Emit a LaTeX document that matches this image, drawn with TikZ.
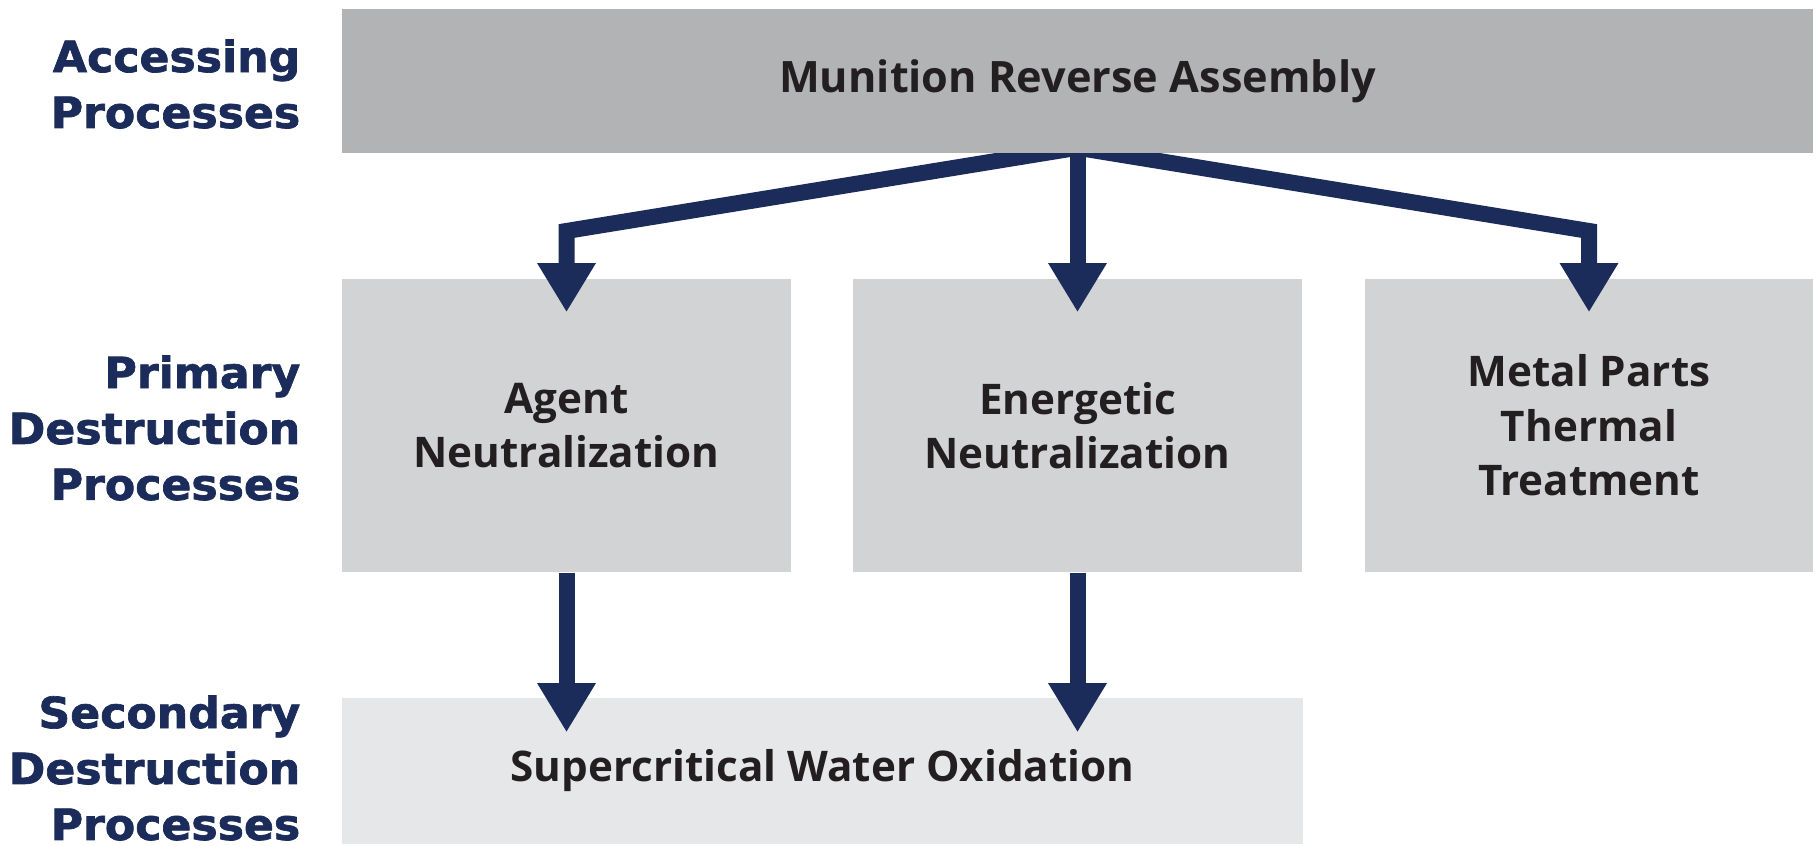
\documentclass[tikz,border=0pt]{standalone}
\usepackage{fontspec}
\setmainfont{Open Sans}
\newfontfamily\stagefont{DejaVu Sans Bold}[FakeBold=1.6, FakeStretch=1.03]
\usetikzlibrary{arrows.meta, positioning}

\definecolor{navy}{HTML}{1B2C5A}
\definecolor{greydark}{HTML}{B2B3B5}
\definecolor{greymid}{HTML}{D1D3D4}
\definecolor{greylight}{HTML}{E6E7E8}
\definecolor{ink}{HTML}{231F20}

\pgfdeclarelayer{front}
\pgfsetlayers{main,front}

\tikzset{
    stage/.style={font=\stagefont\fontsize{12.2}{15.9}\selectfont, text=navy,
        align=right, anchor=east, inner sep=0pt},
    procbox/.style={fill=greymid, minimum width=4.49cm, minimum height=2.93cm, inner sep=0pt,
        align=center, text=ink, font=\bfseries\fontsize{12}{15.5}\selectfont},
    flow/.style={draw=navy, line width=1.6mm, line join=miter,
        -{Triangle[width=5.5mm, length=4.9mm]}}
}

\begin{document}
\begin{tikzpicture}[x=0.01cm, y=0.01cm]
    \useasboundingbox (0,0) rectangle (1816,846);

    % stage labels
    \node[stage] (access) at (301,762) {Accessing\\Processes};
    \node[stage] (primary) at (301,418) {Primary\\Destruction\\Processes};
    \node[stage] (secondary) at (301,78) {Secondary\\Destruction\\Processes};

    % process boxes
    \begin{pgfonlayer}{front}
        \node[procbox, fill=greydark, minimum width=14.71cm, minimum height=1.44cm,
            font=\bfseries\fontsize{12.3}{15.5}\selectfont] (mra) at (1077.5,765) {Munition Reverse Assembly};
    \end{pgfonlayer}
    \node[procbox] (agent) at (566.5,420.5) {Agent\\Neutralization};
    \node[procbox] (energetic) at (1077.5,420.5) {Energetic\\Neutralization};
    \node[procbox, minimum width=4.48cm] (metal) at (1589,420.5) {Metal Parts\\Thermal\\Treatment};
    \node[procbox, fill=greylight, minimum width=9.61cm, minimum height=1.46cm] (scwo) at (822.5,75) {Supercritical Water Oxidation};

    \coordinate (fork) at (1077.5,615);

    \draw[flow] ([yshift=0.06cm]mra.south) -- (agent.north |- fork) -- ([yshift=-0.34cm]agent.north);
    \draw[flow] ([yshift=0.06cm]mra.south) -- ([yshift=-0.34cm]energetic.north);
    \draw[flow] ([yshift=0.06cm]mra.south) -- (metal.north |- fork) -- ([yshift=-0.34cm]metal.north);

    \draw[flow] (agent.south) -- ([yshift=-0.35cm]agent.south |- scwo.north);
    \draw[flow] (energetic.south) -- ([yshift=-0.35cm]energetic.south |- scwo.north);
\end{tikzpicture}
\end{document}
